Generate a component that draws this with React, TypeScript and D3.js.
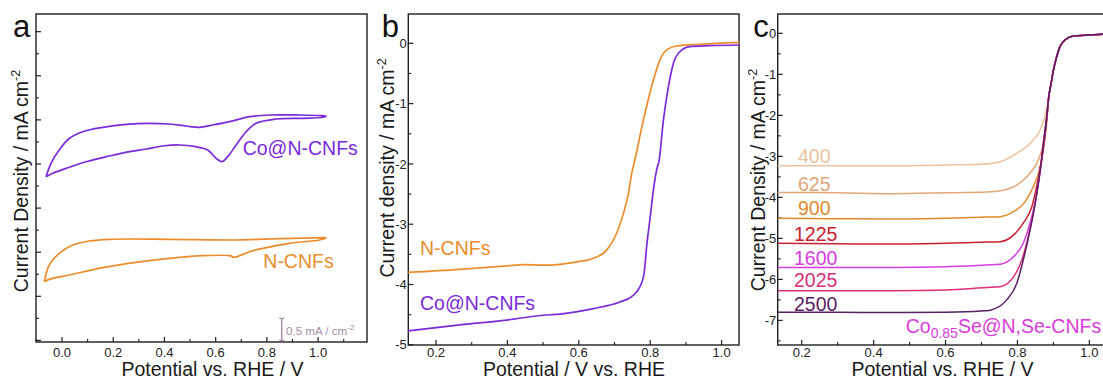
import React from "react";
import * as d3 from "d3";

const FONT = '"Liberation Sans", Arial, Helvetica, sans-serif';

// ---------- Panel a: CV curves (y in mA cm^-2, arbitrary offset) ----------
const cvCoNCNFs: [number, number][] = [
  [-0.0625, -0.288], [-0.043, 0.016], [-0.011, 0.317], [0.029, 0.583], [0.081, 0.732],
  [0.159, 0.832], [0.25, 0.9], [0.341, 0.923], [0.419, 0.907], [0.484, 0.862],
  [0.536, 0.832], [0.589, 0.884], [0.654, 0.959], [0.732, 1.073], [0.81, 1.111],
  [0.927, 1.111], [1.018, 1.095], [1.031, 1.088],
  [1.018, 1.059], [0.94, 1.036], [0.836, 1.02], [0.758, 0.923], [0.719, 0.732],
  [0.68, 0.431], [0.647, 0.166], [0.625, 0.052], [0.602, 0.129], [0.569, 0.317],
  [0.523, 0.392], [0.458, 0.431], [0.393, 0.408], [0.328, 0.34], [0.263, 0.279],
  [0.185, 0.181], [0.094, 0.052], [0.016, -0.098], [-0.036, -0.211], [-0.0625, -0.288],
];
const cvNCNFs: [number, number][] = [
  [-0.069, -2.669], [-0.05, -2.29], [-0.011, -2.025], [0.042, -1.837], [0.107, -1.746],
  [0.185, -1.707], [0.419, -1.707], [0.68, -1.723], [0.81, -1.7], [1.018, -1.671],
  [1.031, -1.671],
  [1.005, -1.723], [0.888, -1.798], [0.784, -1.912], [0.732, -1.989], [0.693, -2.079],
  [0.673, -2.116], [0.654, -2.079], [0.55, -2.079], [0.419, -2.138], [0.289, -2.229],
  [0.159, -2.351], [0.029, -2.517], [-0.05, -2.615], [-0.069, -2.669],
];

// ---------- Panel b: LSV ----------
const lsvNCNFs: [number, number][] = [
  [0.122, -3.8], [0.267, -3.75], [0.398, -3.69], [0.45, -3.67], [0.5, -3.68], [0.547, -3.665],
  [0.6, -3.62], [0.641, -3.565], [0.678, -3.43], [0.706, -3.15], [0.725, -2.82],
  [0.739, -2.49], [0.748, -2.16], [0.757, -1.935], [0.781, -1.27], [0.809, -0.61],
  [0.827, -0.28], [0.846, -0.11], [0.874, -0.045], [0.939, -0.017], [1.05, 0.017],
];
const lsvCoNCNFs: [number, number][] = [
  [0.122, -4.77], [0.267, -4.67], [0.398, -4.59], [0.5, -4.51], [0.547, -4.49],
  [0.641, -4.4], [0.715, -4.29], [0.748, -4.2], [0.771, -4.04], [0.783, -3.81],
  [0.79, -3.37], [0.8, -2.88], [0.809, -2.43], [0.818, -2.1], [0.825, -1.94],
  [0.837, -1.27], [0.851, -0.72], [0.865, -0.33], [0.883, -0.14], [0.911, -0.056],
  [0.967, -0.04], [1.05, -0.028],
];

// ---------- Panel c: rotating speeds ----------
const rpmLabels = ["400", "625", "900", "1225", "1600", "2025", "2500"];
const rpmColors = ["#ebc3a0", "#e0a678", "#e08a2a", "#c8202e", "#d63be0", "#dd2e77", "#5a1e66"];
const trunk: [number, number][] = [
  [0.887, -1.55], [0.893, -1.25], [0.9, -0.9], [0.909, -0.57], [0.918, -0.33],
  [0.932, -0.165], [0.955, -0.068], [1.0, -0.042], [1.05, -0.02],
];
const rpm400: [number, number][] = [
  [0.133, -3.23], [0.3, -3.23], [0.45, -3.23], [0.6, -3.21], [0.7, -3.19], [0.752, -3.13],
  [0.798, -2.93], [0.844, -2.6], [0.863, -2.36], [0.877, -2.0],
];
const rpm625: [number, number][] = [
  [0.133, -3.88], [0.3, -3.89], [0.45, -3.91], [0.6, -3.89], [0.714, -3.87], [0.752, -3.84],
  [0.798, -3.7], [0.835, -3.41], [0.858, -3.09], [0.872, -2.68], [0.881, -2.1],
];
const rpm900: [number, number][] = [
  [0.133, -4.51], [0.3, -4.52], [0.45, -4.53], [0.6, -4.51], [0.714, -4.48], [0.752, -4.47],
  [0.789, -4.35], [0.821, -4.11], [0.844, -3.74], [0.861, -3.33], [0.872, -2.85], [0.881, -2.2],
];
const rpm1225: [number, number][] = [
  [0.133, -5.12], [0.3, -5.13], [0.45, -5.14], [0.6, -5.12], [0.714, -5.09], [0.752, -5.08],
  [0.789, -4.92], [0.816, -4.63], [0.84, -4.23], [0.855, -3.66], [0.867, -3.09], [0.878, -2.4],
];
const rpm1600: [number, number][] = [
  [0.133, -5.71], [0.3, -5.71], [0.45, -5.71], [0.6, -5.69], [0.714, -5.65], [0.752, -5.63],
  [0.789, -5.45], [0.816, -5.12], [0.835, -4.63], [0.852, -3.99], [0.865, -3.25],
  [0.875, -2.52], [0.882, -2.0],
];
const rpm2025: [number, number][] = [
  [0.133, -6.28], [0.3, -6.28], [0.45, -6.28], [0.6, -6.26], [0.714, -6.2], [0.752, -6.18],
  [0.789, -5.94], [0.812, -5.53], [0.83, -4.96], [0.849, -4.15], [0.863, -3.33],
  [0.874, -2.52], [0.882, -2.0],
];
const rpm2500: [number, number][] = [
  [0.133, -6.8], [0.3, -6.8], [0.45, -6.81], [0.6, -6.8], [0.7, -6.77], [0.724, -6.75],
  [0.77, -6.5], [0.798, -6.1], [0.816, -5.53], [0.835, -4.8], [0.854, -3.9], [0.867, -3.09],
  [0.877, -2.36], [0.883, -1.9],
];
const rpmSeries = [rpm400, rpm625, rpm900, rpm1225, rpm1600, rpm2025, rpm2500];

// tick values
const xTicksMajor = [0.0, 0.2, 0.4, 0.6, 0.8, 1.0];
const xTicksMinor = [-0.1, 0.1, 0.3, 0.5, 0.7, 0.9, 1.1];
const aYMajor = [3, 2, 1, 0, -1, -2, -3, -4];
const bYMajor = [0, -1, -2, -3, -4, -5];
const cYMajor = [0, -1, -2, -3, -4, -5, -6, -7];

type Box = { l: number; r: number; t: number; b: number };

function Frame({
  box, x, y, xMajor, xMinor, yMajor, showY, yLabels,
}: {
  box: Box; x: d3.ScaleLinear<number, number>; y: d3.ScaleLinear<number, number>;
  xMajor: number[]; xMinor: number[]; yMajor: number[]; showY: boolean; yLabels: boolean;
}) {
  const yMinor = yMajor.slice(0, -1).map((v, i) => (v + yMajor[i + 1]) / 2)
    .concat([yMajor[0] + 0.5, yMajor[yMajor.length - 1] - 0.5]);
  const inX = (v: number) => x(v) >= box.l - 0.5 && x(v) <= box.r + 0.5;
  const inY = (v: number) => y(v) >= box.t - 0.5 && y(v) <= box.b + 0.5;
  return (
    <g>
      <rect x={box.l} y={box.t} width={box.r - box.l} height={box.b - box.t}
        fill="none" stroke="#1e1e1e" strokeWidth={1.4} />
      {xMajor.filter(inX).map((v) => (
        <g key={"xm" + v}>
          <line x1={x(v)} x2={x(v)} y1={box.b} y2={box.b - 5} stroke="#1e1e1e" strokeWidth={1.2} />
          <text x={x(v)} y={357} textAnchor="middle" fontSize={13} fill="#222">
            {d3.format(".1f")(v)}
          </text>
        </g>
      ))}
      {xMinor.filter(inX).map((v) => (
        <line key={"xn" + v} x1={x(v)} x2={x(v)} y1={box.b} y2={box.b - 3} stroke="#1e1e1e" strokeWidth={1.1} />
      ))}
      {showY && yMajor.filter(inY).map((v) => (
        <g key={"ym" + v}>
          <line x1={box.l} x2={box.l + 5} y1={y(v)} y2={y(v)} stroke="#1e1e1e" strokeWidth={1.2} />
          {yLabels && (
            <text x={box.l - 1.5} y={y(v)} dy="0.36em" textAnchor="end" fontSize={13} fill="#222">
              {String(v)}
            </text>
          )}
        </g>
      ))}
      {showY && yMinor.filter(inY).map((v) => (
        <line key={"yn" + v} x1={box.l} x2={box.l + 3} y1={y(v)} y2={y(v)} stroke="#1e1e1e" strokeWidth={1.1} />
      ))}
    </g>
  );
}

function YTitle({ x, y, text }: { x: number; y: number; text: string }) {
  return (
    <text transform={`translate(${x},${y}) rotate(-90)`} textAnchor="middle" fontSize={19.5} fill="#1a1a1a">
      {text}
      <tspan fontSize={12.5} dy={-8}>-2</tspan>
    </text>
  );
}

export default function App() {
  // Panel a
  const boxA: Box = { l: 36, r: 367, t: 14, b: 342 };
  const xA = d3.scaleLinear().domain([-0.1016, 1.191]).range([boxA.l, boxA.r]);
  const yA = d3.scaleLinear().domain([-4.036, 3.401]).range([boxA.b, boxA.t]);
  const lineA = d3.line<[number, number]>().x((d) => xA(d[0])).y((d) => yA(d[1])).curve(d3.curveCatmullRom.alpha(0.5));

  // Panel b
  const boxB: Box = { l: 408.3, r: 739, t: 14, b: 345 };
  const xB = d3.scaleLinear().domain([0.1224, 1.0487]).range([boxB.l, boxB.r]);
  const yB = d3.scaleLinear().domain([-5.003, 0.486]).range([boxB.b, boxB.t]);
  const lineB = d3.line<[number, number]>().x((d) => xB(d[0])).y((d) => yB(d[1])).curve(d3.curveMonotoneX);

  // Panel c
  const boxC: Box = { l: 777.7, r: 1107, t: 14, b: 345 };
  const xC = d3.scaleLinear().domain([0.1332, 1.049]).range([boxC.l, boxC.r]);
  const yC = d3.scaleLinear().domain([-7.6, 0.471]).range([boxC.b, boxC.t]);
  const lineC = d3.line<[number, number]>().x((d) => xC(d[0])).y((d) => yC(d[1])).curve(d3.curveMonotoneX);

  const labelYC = [163, 190.7, 215, 240.7, 265, 287.3, 310.7];
  const labelXC = [798, 798, 798, 794, 794, 794, 794];

  // scale bar
  const sbX = 281.7;
  const sbTop = yA(-3.5);
  const sbBot = yA(-4.0);

  return (
    <svg width={1103} height={379} style={{ position: "absolute", left: 0, top: 0, background: "#fff" }}
      fontFamily={FONT}>
      <rect width={1103} height={379} fill="#fff" />

      {/* ---------- a ---------- */}
      <Frame box={boxA} x={xA} y={yA} xMajor={xTicksMajor} xMinor={xTicksMinor} yMajor={aYMajor} showY yLabels={false} />
      <path d={lineA(cvCoNCNFs) || ""} fill="none" stroke="#7b2bd9" strokeWidth={1.7} />
      <path d={lineA(cvNCNFs) || ""} fill="none" stroke="#ec8c2c" strokeWidth={1.7} />
      <text x={242.7} y={155} fontSize={19.5} fill="#7b2bd9">Co@N-CNFs</text>
      <text x={263.3} y={268.3} fontSize={19.5} fill="#ec8c2c">N-CNFs</text>
      <line x1={sbX} x2={sbX} y1={sbTop} y2={sbBot} stroke="#a68aa8" strokeWidth={1.4} />
      <line x1={sbX - 2.5} x2={sbX + 2.5} y1={sbTop} y2={sbTop} stroke="#a68aa8" strokeWidth={1.2} />
      <line x1={sbX - 2.5} x2={sbX + 2.5} y1={sbBot} y2={sbBot} stroke="#a68aa8" strokeWidth={1.2} />
      <text x={286} y={335} fontSize={11.6} fill="#a68aa8">
        0.5 mA / cm<tspan fontSize={8} dy={-5}>-2</tspan>
      </text>
      <text x={13} y={37} fontSize={31} fill="#111">a</text>
      <YTitle x={28} y={181} text="Current Density / mA cm" />
      <text x={212.5} y={376} textAnchor="middle" fontSize={19.5} fill="#1a1a1a">Potential vs. RHE / V</text>

      {/* ---------- b ---------- */}
      <Frame box={boxB} x={xB} y={yB} xMajor={xTicksMajor} xMinor={xTicksMinor} yMajor={bYMajor} showY yLabels />
      <path d={lineB(lsvNCNFs) || ""} fill="none" stroke="#ec8c2c" strokeWidth={1.7} />
      <path d={lineB(lsvCoNCNFs) || ""} fill="none" stroke="#7b2bd9" strokeWidth={1.7} />
      <text x={420} y={255} fontSize={19.5} fill="#ec8c2c">N-CNFs</text>
      <text x={420} y={310} fontSize={19.5} fill="#7b2bd9">Co@N-CNFs</text>
      <text x={381.7} y={37} fontSize={31} fill="#111">b</text>
      <YTitle x={394} y={168} text="Current density / mA cm" />
      <text x={574} y={376} textAnchor="middle" fontSize={19.5} fill="#1a1a1a">Potential / V vs. RHE</text>

      {/* ---------- c ---------- */}
      <Frame box={boxC} x={xC} y={yC} xMajor={xTicksMajor} xMinor={xTicksMinor} yMajor={cYMajor} showY yLabels />
      {rpmSeries.map((s, i) => (
        <path key={rpmLabels[i]} d={lineC(s.concat(trunk)) || ""} fill="none" stroke={rpmColors[i]} strokeWidth={1.5} />
      ))}
      {rpmLabels.map((t, i) => (
        <text key={"l" + t} x={labelXC[i]} y={labelYC[i]} fontSize={19.5} fill={rpmColors[i]}>{t}</text>
      ))}
      <text x={905.7} y={333.3} fontSize={19.5} fill="#d93bdb">
        Co<tspan fontSize={14} dy={5}>0.85</tspan><tspan dy={-5}>Se@N,Se-CNFs</tspan>
      </text>
      <text x={753.3} y={37} fontSize={31} fill="#111">c</text>
      <YTitle x={765} y={180} text="Current Density / mA cm" />
      <text x={942.5} y={376} textAnchor="middle" fontSize={19.5} fill="#1a1a1a">Potential vs. RHE / V</text>
    </svg>
  );
}
